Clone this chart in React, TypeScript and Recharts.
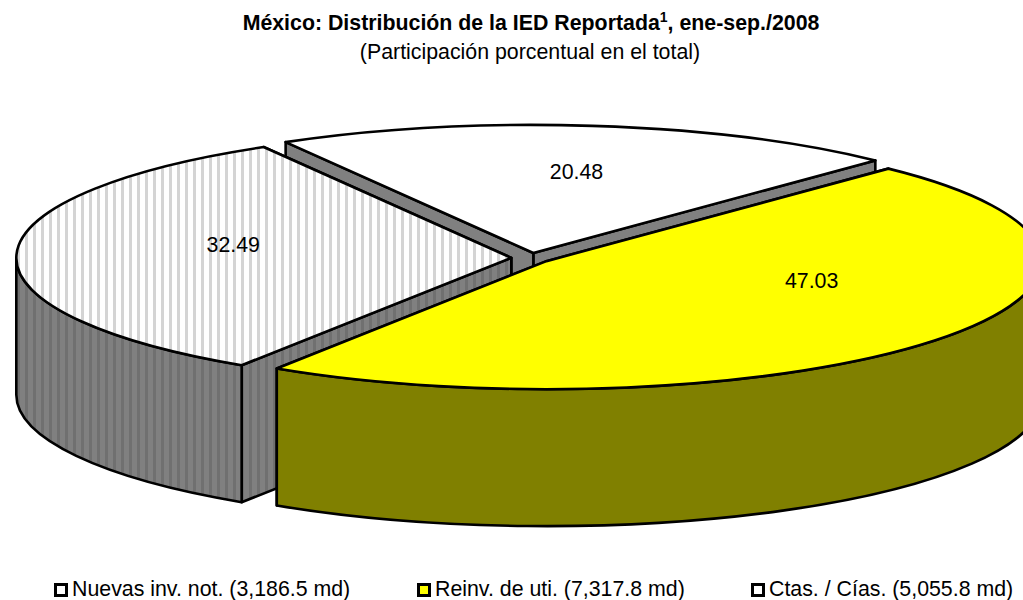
import React from 'react';
import { PieChart, Pie, Legend } from 'recharts';

// Draw order is back to front, the yellow slice has to stay on top
const sliceNames = ['Nuevas inv. not.', 'Ctas. / Cías.', 'Reinv. de uti.'];
const sliceShares = [20.48, 32.49, 47.03];

// Legend reads in the original series order
const legendNames = ['Nuevas inv. not.', 'Reinv. de uti.', 'Ctas. / Cías.'];
const legendAmounts = ['3,186.5', '7,317.8', '5,055.8'];

const chartData = sliceNames.map((name, i) => ({ name, value: sliceShares[i] }));

const RX = 495;
const RY = 128;
const DEPTH = 137;
const EXPLODE = 19.7;
const FONT = '"Liberation Sans", Arial, sans-serif';
const FONT_SIZE = 21.33; // 16pt in the original

const sliceStyle: Record<string, { top: string; wall: string }> = {
  'Nuevas inv. not.': { top: '#ffffff', wall: '#808080' },
  'Reinv. de uti.': { top: '#ffff00', wall: '#808000' },
  'Ctas. / Cías.': { top: 'url(#stripeTop)', wall: 'url(#stripeWall)' },
};

// Excel places its data labels by hand, so nudge them from the 62% radius spot
const labelNudge: Record<string, [number, number]> = {
  'Nuevas inv. not.': [9, -7],
  'Ctas. / Cías.': [9, -11],
  'Reinv. de uti.': [40, -26],
};

const legendX = [54, 417, 751];

const rad = (deg: number) => (deg * Math.PI) / 180;

const SliceShape = (props: any) => {
  const { cx, cy, startAngle, endAngle, name } = props;
  const t0 = Math.min(startAngle, endAngle);
  const t1 = Math.max(startAngle, endAngle);
  const mid = (t0 + t1) / 2;
  // apex moves out along the mid angle, squashed like the rest of the pie
  const ax = cx + EXPLODE * Math.cos(rad(mid));
  const ay = cy - (EXPLODE * RY * Math.sin(rad(mid))) / RX;
  const pt = (t: number) => [ax + RX * Math.cos(rad(t)), ay - RY * Math.sin(rad(t))];
  const [x0, y0] = pt(t0);
  const [x1, y1] = pt(t1);
  const style = sliceStyle[name] ?? sliceStyle[sliceNames[0]];
  const common = { stroke: '#000', strokeWidth: 2.6, strokeLinejoin: 'round' as const };

  const cut = (x: number, y: number) =>
    `M${ax},${ay} L${x},${y} L${x},${y + DEPTH} L${ax},${ay + DEPTH} Z`;

  // only the front half of the rim can be seen
  const from = Math.max(t0, 180);
  const to = Math.min(t1, 360);
  let rim = '';
  if (to > from) {
    const [rx0, ry0] = pt(from);
    const [rx1, ry1] = pt(to);
    const large = to - from > 180 ? 1 : 0;
    rim = `M${rx0},${ry0} A${RX},${RY} 0 ${large} 0 ${rx1},${ry1} L${rx1},${ry1 + DEPTH} A${RX},${RY} 0 ${large} 1 ${rx0},${ry0 + DEPTH} Z`;
  }

  const top = `M${ax},${ay} L${x0},${y0} A${RX},${RY} 0 ${t1 - t0 > 180 ? 1 : 0} 0 ${x1},${y1} Z`;

  return (
    <g>
      <path d={cut(x0, y0)} fill={style.wall} {...common} />
      <path d={cut(x1, y1)} fill={style.wall} {...common} />
      {rim && <path d={rim} fill={style.wall} {...common} />}
      <path d={top} fill={style.top} {...common} />
    </g>
  );
};

const renderLabel = (props: any) => {
  const { cx, cy, midAngle, name, value } = props;
  const [nx, ny] = labelNudge[name] ?? [0, 0];
  const x = cx + 0.62 * RX * Math.cos(rad(midAngle)) + nx;
  const y = cy - 0.62 * RY * Math.sin(rad(midAngle)) + ny;
  return (
    <text x={x} y={y} textAnchor="middle" dominantBaseline="central" fontFamily={FONT} fontSize={FONT_SIZE} fill="#000">
      {value.toFixed(2)}
    </text>
  );
};

const renderLegend = () => (
  <div style={{ position: 'relative', width: 1023, height: 30, fontFamily: FONT, fontSize: FONT_SIZE, color: '#000' }}>
    {legendNames.map((name, i) => (
      <div key={name} style={{ position: 'absolute', left: legendX[i], top: 0, whiteSpace: 'nowrap', lineHeight: '30px' }}>
        <span
          style={{
            display: 'inline-block',
            width: 8,
            height: 8,
            border: '3px solid #000',
            background: sliceStyle[name].top.startsWith('url') ? '#fff' : sliceStyle[name].top,
            marginRight: 4,
            verticalAlign: -1,
          }}
        />
        {`${name} (${legendAmounts[i]} md)`}
      </div>
    ))}
  </div>
);

export default function App() {
  return (
    <div style={{ position: 'absolute', left: 0, top: 0, width: 1023, height: 600, overflow: 'hidden', background: '#fff' }}>
      <PieChart width={1023} height={600} margin={{ top: 0, right: 0, bottom: 0, left: 0 }}>
        <defs>
          <pattern id="stripeTop" patternUnits="userSpaceOnUse" width={8} height={8}>
            <rect width={8} height={8} fill="#ffffff" />
            <rect x={1} width={3} height={8} fill="#d4d4d4" />
          </pattern>
          <pattern id="stripeWall" patternUnits="userSpaceOnUse" width={8} height={8}>
            <rect width={8} height={8} fill="#808080" />
            <rect x={1} width={3} height={8} fill="#707070" />
          </pattern>
        </defs>
        <text x={531} y={30} textAnchor="middle" fontFamily={FONT} fontSize={FONT_SIZE} fontWeight="bold" fill="#000">
          México: Distribución de la IED Reportada
          <tspan fontSize={14} dy={-8}>1</tspan>
          <tspan dy={8}>, ene-sep./2008</tspan>
        </text>
        <text x={530} y={59} textAnchor="middle" fontFamily={FONT} fontSize={FONT_SIZE} fill="#000">
          (Participación porcentual en el total)
        </text>
        <Pie
          data={chartData}
          dataKey="value"
          nameKey="name"
          cx={531}
          cy={258}
          innerRadius={0}
          outerRadius={RX}
          startAngle={46.3}
          endAngle={406.3}
          shape={SliceShape}
          label={renderLabel}
          labelLine={false}
          isAnimationActive={false}
        />
        <Legend content={renderLegend} wrapperStyle={{ left: 0, top: 574, width: 1023, height: 30 }} />
      </PieChart>
    </div>
  );
}
